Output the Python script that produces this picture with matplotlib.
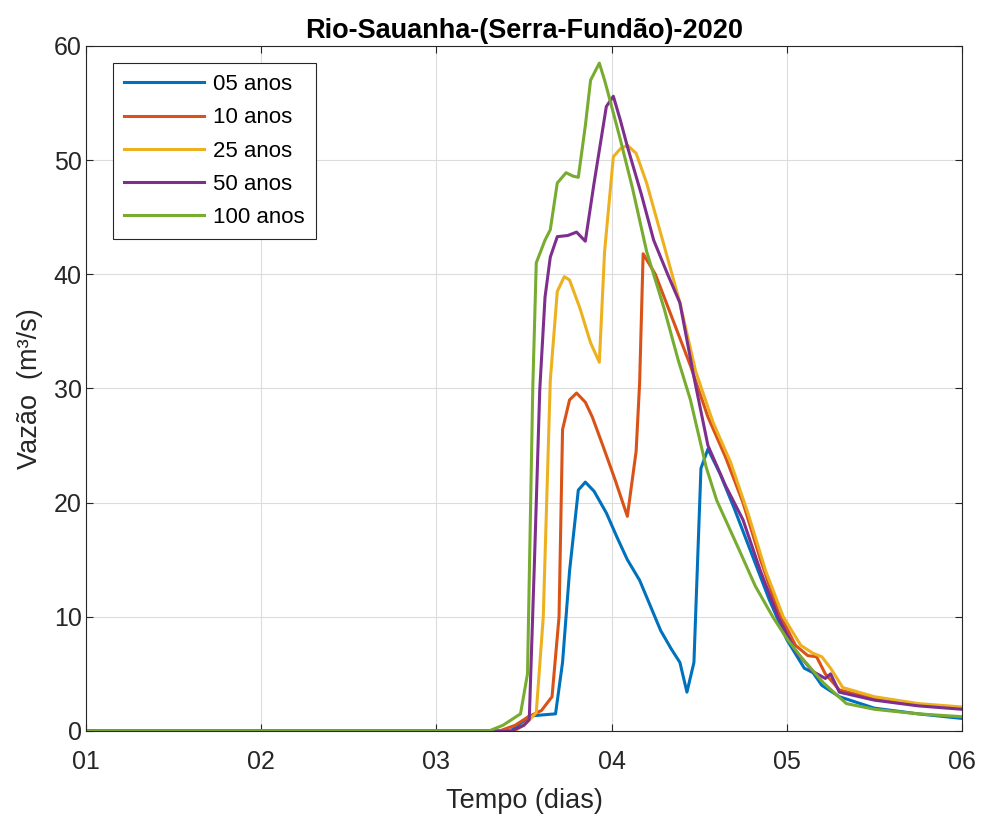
import matplotlib
matplotlib.use("Agg")
from matplotlib import pyplot as plt

plt.rcParams['font.family'] = ['Liberation Sans', 'DejaVu Sans']

# hydrographs (time in days, discharge in m3/s)
x05 = [1, 3.42, 3.48, 3.53, 3.60, 3.68, 3.72, 3.76, 3.81, 3.85, 3.90, 3.97, 4.03, 4.09, 4.16, 4.22,
       4.28, 4.34, 4.39, 4.43, 4.47, 4.51, 4.55, 4.62, 4.70, 4.80, 4.90, 5.00, 5.10, 5.15, 5.20,
       5.30, 5.50, 5.75, 6.0]
y05 = [0, 0, 0.6, 1.3, 1.4, 1.5, 6.0, 14.0, 21.1, 21.8, 21.0, 19.1, 17.0, 15.0, 13.2, 11.0,
       8.8, 7.2, 6.0, 3.4, 6.0, 23.0, 24.7, 22.5, 19.5, 15.5, 11.5, 8.0, 5.5, 5.1, 4.0,
       3.0, 2.0, 1.5, 1.1]

x10 = [1, 3.36, 3.45, 3.52, 3.60, 3.66, 3.70, 3.72, 3.76, 3.80, 3.85, 3.89, 3.95, 4.02, 4.09, 4.14,
       4.16, 4.18, 4.25, 4.35, 4.45, 4.55, 4.65, 4.75, 4.85, 4.95, 5.05, 5.12, 5.17, 5.22, 5.30,
       5.50, 5.75, 6.0]
y10 = [0, 0, 0.5, 1.2, 1.8, 3.0, 10, 26.4, 29.0, 29.6, 28.8, 27.5, 25, 22, 18.8, 24.5,
       30.5, 41.8, 40, 36, 32, 27.5, 24, 20, 15, 10.5, 7.5, 6.6, 6.5, 5.0, 3.6,
       2.8, 2.3, 2.0]

x25 = [1, 3.45, 3.52, 3.57, 3.61, 3.65, 3.69, 3.73, 3.76, 3.82, 3.88, 3.93, 3.96, 4.01, 4.05, 4.09,
       4.14, 4.20, 4.30, 4.39, 4.48, 4.58, 4.68, 4.78, 4.88, 4.98, 5.08, 5.15, 5.20, 5.25, 5.32,
       5.50, 5.75, 6.0]
y25 = [0, 0, 0.8, 1.6, 10, 30.7, 38.5, 39.8, 39.5, 37, 34, 32.3, 42, 50.3, 51, 51.3,
       50.6, 48, 42.5, 37.5, 31.5, 27, 23.5, 19, 14, 10, 7.5, 6.8, 6.5, 5.5, 3.8,
       3.0, 2.4, 2.1]

x50 = [1, 3.43, 3.50, 3.53, 3.56, 3.59, 3.62, 3.65, 3.69, 3.75, 3.80, 3.85, 3.90, 3.97, 4.01, 4.05,
       4.09, 4.17, 4.24, 4.32, 4.39, 4.47, 4.55, 4.65, 4.75, 4.85, 4.95, 5.05, 5.15, 5.22, 5.25,
       5.30, 5.50, 5.75, 6.0]
y50 = [0, 0, 0.5, 1.0, 15, 29.9, 38, 41.5, 43.3, 43.4, 43.7, 42.9, 48, 54.7, 55.6, 53.5,
       51.2, 47, 43, 40, 37.5, 31, 25, 21.5, 18.5, 14, 10, 7, 5.2, 4.6, 5.0,
       3.4, 2.7, 2.2, 1.9]

x100 = [1, 3.30, 3.38, 3.43, 3.48, 3.52, 3.55, 3.57, 3.59, 3.62, 3.65, 3.69, 3.74, 3.78, 3.81, 3.85,
        3.88, 3.93, 3.96, 3.99, 4.05, 4.12, 4.20, 4.30, 4.38, 4.45, 4.54, 4.60, 4.73, 4.82, 4.92,
        5.00, 5.08, 5.21, 5.34, 5.50, 5.75, 6.0]
y100 = [0, 0, 0.5, 1.0, 1.5, 5, 30, 41, 41.8, 43, 43.9, 48, 48.9, 48.6, 48.5, 53,
        57, 58.5, 57, 55.3, 51.8, 47.5, 42, 37, 32.5, 29, 23.1, 20.2, 15.8, 12.7, 10,
        8.1, 6.5, 4.2, 2.4, 1.9, 1.5, 1.25]

labels = ['05 anos', '10 anos', '25 anos', '50 anos', '100 anos']
colors = ['#0072BD', '#D95319', '#EDB120', '#7E2F8E', '#77AC30']
xticks = [1, 2, 3, 4, 5, 6]
xticklabels = ['01', '02', '03', '04', '05', '06']

fig = plt.figure(figsize=(9.81, 8.17), dpi=100)
ax = fig.add_axes([0.0877, 0.1053, 0.8929, 0.8384])

series = [(x05, y05), (x10, y10), (x25, y25), (x50, y50), (x100, y100)]
for (xs, ys), lab, c in zip(series, labels, colors):
    ax.plot(xs, ys, color=c, lw=2.2, label=lab)

ax.set_xlim(1, 6)
ax.set_ylim(0, 60)
ax.set_xticks(xticks)
ax.set_xticklabels(xticklabels)
ax.set_yticks(range(0, 61, 10))
ax.grid(True, color='#dcdcdc', lw=0.8)
ax.tick_params(direction='in', top=True, right=True, labelsize=18, colors='#262626', length=5)
ax.tick_params(axis='x', pad=14)
ax.tick_params(axis='y', pad=3)
for s in ax.spines.values():
    s.set_color('#262626')
    s.set_linewidth(0.8)

ax.set_title('Rio-Sauanha-(Serra-Fundão)-2020', fontsize=19.5, fontweight='bold', color='black', pad=6)
ax.set_xlabel('Tempo (dias)', fontsize=19.5, color='#262626', labelpad=10)
ax.set_ylabel('Vazão  (m³/s)', fontsize=19.5, color='#262626', labelpad=8)

leg = ax.legend(loc='upper left', bbox_to_anchor=(0.031, 0.975), borderaxespad=0, fontsize=16,
                handlelength=3.6, handletextpad=0.4, fancybox=False, edgecolor='#262626',
                framealpha=1, borderpad=0.5, labelspacing=0.55)
leg.get_frame().set_linewidth(0.8)

fig.savefig('out.png', dpi=100)
